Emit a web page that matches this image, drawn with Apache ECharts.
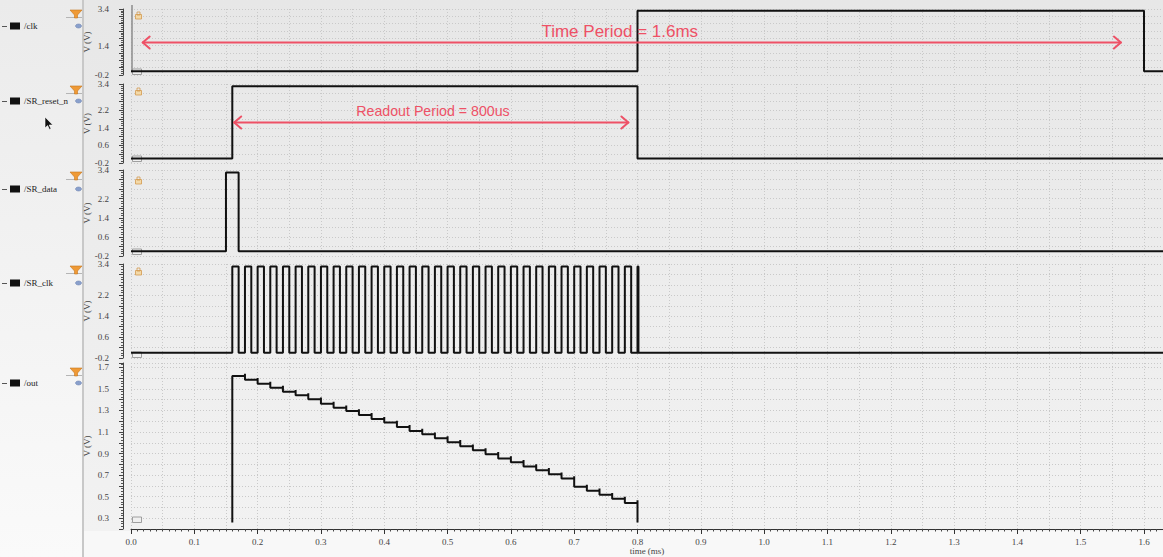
<!DOCTYPE html>
<html>
<head>
<meta charset="utf-8">
<script src="https://cdn.jsdelivr.net/npm/echarts@6/dist/echarts.min.js"></script>
<style>
html,body{margin:0;padding:0;width:1163px;height:557px;overflow:hidden;background:#f8f8f8;}
#left{position:absolute;left:0;top:0;width:82px;height:557px;background:linear-gradient(#ebebeb,#fafafa);}
#sep{position:absolute;left:82px;top:0;width:2px;height:557px;background:#c8c8c8;}
#plotbg{position:absolute;left:84px;top:0;width:1079px;height:531px;background:linear-gradient(#e7e7e7,#f2f2f2);}
#chart{position:absolute;left:0;top:0;width:1163px;height:557px;}
</style>
</head>
<body>
<div id="left"></div><div id="sep"></div><div id="plotbg"></div>
<div id="chart"></div>
<script>
// ---------------- data ----------------
const signalNames = ['/clk', '/SR_reset_n', '/SR_data', '/SR_clk', '/out'];
const tMax = 1.63;

const clkT = [0, 0.8, 0.8, 1.6, 1.6, 1.63];
const clkV = [0, 0, 3.3, 3.3, 0, 0];

const resetT = [0, 0.16, 0.16, 0.8, 0.8, 1.63];
const resetV = [0, 0, 3.3, 3.3, 0, 0];

const dataT = [0, 0.15, 0.15, 0.17, 0.17, 1.63];
const dataV = [0, 0, 3.3, 3.3, 0, 0];

const srClkRise = [0.16, 0.18, 0.20, 0.22, 0.24, 0.26, 0.28, 0.30, 0.32, 0.34, 0.36, 0.38, 0.40, 0.42, 0.44, 0.46,
                   0.48, 0.50, 0.52, 0.54, 0.56, 0.58, 0.60, 0.62, 0.64, 0.66, 0.68, 0.70, 0.72, 0.74, 0.76, 0.78, 0.800];
const srClkFall = [0.17, 0.19, 0.21, 0.23, 0.25, 0.27, 0.29, 0.31, 0.33, 0.35, 0.37, 0.39, 0.41, 0.43, 0.45, 0.47,
                   0.49, 0.51, 0.53, 0.55, 0.57, 0.59, 0.61, 0.63, 0.65, 0.67, 0.69, 0.71, 0.73, 0.75, 0.77, 0.79, 0.8015];
const srClkHigh = 3.3;
const srClkLow = 0;

const outEdges = [0.16, 0.18, 0.20, 0.22, 0.24, 0.26, 0.28, 0.30, 0.32, 0.34, 0.36, 0.38, 0.40, 0.42, 0.44, 0.46,
                  0.48, 0.50, 0.52, 0.54, 0.56, 0.58, 0.60, 0.62, 0.64, 0.66, 0.68, 0.70, 0.72, 0.74, 0.76, 0.78, 0.80];
const outLevels = [1.62, 1.585, 1.548, 1.51, 1.474, 1.44, 1.403, 1.363, 1.326, 1.295, 1.258, 1.221, 1.187, 1.147, 1.11, 1.078,
                   1.042, 1.005, 0.968, 0.931, 0.894, 0.853, 0.82, 0.779, 0.746, 0.707, 0.668, 0.591, 0.554, 0.517, 0.48, 0.442];
const outPeaks = [1.64, 1.60, 1.565, 1.53, 1.49, 1.46, 1.42, 1.38, 1.345, 1.31, 1.275, 1.24, 1.205, 1.165, 1.13, 1.095,
                  1.06, 1.025, 0.985, 0.95, 0.915, 0.875, 0.84, 0.80, 0.765, 0.725, 0.69, 0.61, 0.575, 0.535, 0.50, 0.467];
const outFloor = 0.26;

const xTickValues = [0, 0.1, 0.2, 0.3, 0.4, 0.5, 0.6, 0.7, 0.8, 0.9, 1.0, 1.1, 1.2, 1.3, 1.4, 1.5, 1.6];
const clkYLabels = [-0.2, 1.4, 3.4];
const waveYLabels = [-0.2, 0.6, 1.4, 2.2, 3.4];
const outYLabels = [0.3, 0.5, 0.7, 0.9, 1.1, 1.3, 1.5, 1.7];

const timeAnno = { text: 'Time Period = 1.6ms', from: 0.0185, to: 1.5635, v: 1.57, textT: 0.772, textV: 2.15 };
const readAnno = { text: 'Readout Period = 800us', from: 0.163, to: 0.7856, v: 1.646, textT: 0.477, textV: 2.17 };

// ---------------- build series data ----------------
const zip = (T, V) => T.map((t, i) => [t, V[i]]);
const srClkData = [[0, srClkLow]];
srClkRise.forEach((r, i) => {
  srClkData.push([r, srClkLow], [r, srClkHigh], [srClkFall[i], srClkHigh], [srClkFall[i], srClkLow]);
});
srClkData.push([tMax, srClkLow]);

const outData = [[outEdges[0], outFloor], [outEdges[0], outLevels[0]]];
for (let i = 1; i < outEdges.length; i++) {
  const t = outEdges[i];
  const next = i < outLevels.length ? outLevels[i] : outFloor;
  outData.push([t, outLevels[i - 1]], [t, outPeaks[i - 1]], [t, next]);
}

// ---------------- styling ----------------
const SERIF = '"Liberation Serif", "DejaVu Serif", serif';
const RED = '#ee5166';
const gridDefs = [
  { top: 9, height: 66 },
  { top: 84, height: 79 },
  { top: 170, height: 86 },
  { top: 264, height: 94 },
  { top: 363, height: 166 }
];
const splitStyle = { show: true, lineStyle: { color: '#c9c9c9', width: 1, type: [1, 2] } };

const grids = gridDefs.map(g => ({ left: 131, right: 0, top: g.top, height: g.height, outerBoundsMode: 'none', containLabel: false }));

const xAxes = gridDefs.map((g, i) => ({
  type: 'value', gridIndex: i, position: 'top', min: 0, max: tMax, interval: 0.05,
  axisLine: { show: false, onZero: false }, axisTick: { show: false }, axisLabel: { show: false },
  splitLine: splitStyle
}));
xAxes.push({
  type: 'value', gridIndex: 4, position: 'bottom', min: 0, max: tMax, interval: 0.1,
  axisLine: { show: true, onZero: false, lineStyle: { color: '#333', width: 1 } },
  axisTick: { show: true, length: 5, customValues: xTickValues, lineStyle: { color: '#333' } },
  minorTick: { show: true, splitNumber: 10, length: 2.5, lineStyle: { color: '#444' } },
  axisLabel: { customValues: xTickValues, formatter: v => v.toFixed(1), fontFamily: SERIF, fontSize: 9, color: '#444', margin: 8 },
  splitLine: { show: false },
  name: 'time (ms)', nameLocation: 'middle', nameGap: 17, nameMoveOverlap: false,
  nameTextStyle: { fontFamily: SERIF, fontSize: 9, color: '#444' }
});

function yAxisDef(i, min, max, interval, labels, minorSplit) {
  return {
    type: 'value', gridIndex: i, position: 'left', min: min, max: max, interval: interval, offset: 8,
    axisLine: { show: true, onZero: false, lineStyle: { color: '#444', width: 1 } },
    axisTick: { show: true, length: 4, lineStyle: { color: '#444' } },
    minorTick: { show: true, splitNumber: minorSplit, length: 2, lineStyle: { color: '#555' } },
    axisLabel: { customValues: labels, formatter: v => v.toFixed(1), fontFamily: SERIF, fontSize: 9, lineHeight: 7, color: '#444', margin: 14 },
    splitLine: splitStyle,
    name: 'V (V)', nameLocation: 'middle', nameGap: 32, nameRotate: 90, nameMoveOverlap: false,
    nameTextStyle: { fontFamily: SERIF, fontSize: 9, color: '#444' }
  };
}
const yAxes = [
  yAxisDef(0, -0.2, 3.4, 0.4, clkYLabels, 4),
  yAxisDef(1, -0.2, 3.4, 0.4, waveYLabels, 4),
  yAxisDef(2, -0.2, 3.4, 0.4, waveYLabels, 4),
  yAxisDef(3, -0.2, 3.4, 0.4, waveYLabels, 4),
  yAxisDef(4, 0.2, 1.74, 0.1, outYLabels, 4)
];

function wave(name, idx, data) {
  return {
    name: name, type: 'line', xAxisIndex: idx, yAxisIndex: idx, data: data,
    showSymbol: false, symbol: 'none', animation: false, silent: true, clip: true,
    lineStyle: { color: '#111', width: 2 }
  };
}

const series = [
  wave(signalNames[0], 0, zip(clkT, clkV)),
  wave(signalNames[1], 1, zip(resetT, resetV)),
  wave(signalNames[2], 2, zip(dataT, dataV)),
  wave(signalNames[3], 3, srClkData),
  wave(signalNames[4], 4, outData)
];

const chart = echarts.init(document.getElementById('chart'), null, { renderer: 'svg' });
chart.setOption({
  animation: false,
  backgroundColor: 'transparent',
  grid: grids, xAxis: xAxes, yAxis: yAxes, series: series
});

// ---------------- decorations & annotations ----------------
const g = [];
const rowY = [26, 101, 189, 283, 383];
const funnelY = [10, 86, 172, 266, 368];
signalNames.forEach((n, i) => {
  const y = rowY[i];
  g.push({ type: 'rect', shape: { x: 2, y: y, width: 5, height: 1 }, style: { fill: '#555' } });
  g.push({ type: 'rect', shape: { x: 10, y: y - 3.5, width: 10, height: 7 }, style: { fill: '#111' } });
  g.push({ type: 'text', x: 24, y: y, style: { text: n, fontFamily: SERIF, fontSize: 9, fill: '#222', verticalAlign: 'middle' } });
  const fy = funnelY[i];
  g.push({ type: 'rect', shape: { x: 66, y: fy + 7, width: 16, height: 1 }, style: { fill: '#b5b5b5' } });
  g.push({ type: 'polygon', shape: { points: [[70, fy], [82, fy], [77.5, fy + 5], [77.5, fy + 8], [74.5, fy + 8], [74.5, fy + 5]] },
           style: { fill: '#ef9a36', stroke: '#c4761f', lineWidth: 0.6 } });
  g.push({ type: 'ellipse', shape: { cx: 78.5, cy: y, rx: 3, ry: 2 }, style: { fill: '#8aa0cc', stroke: '#5f77a8', lineWidth: 0.5 } });
});
// mouse pointer from the screenshot
g.push({ type: 'polygon', shape: { points: [[45, 117], [45, 128], [47.6, 125.6], [49.5, 129.5], [51, 128.8], [49.2, 125], [52.8, 125]] },
         style: { fill: '#111', stroke: '#fff', lineWidth: 0.6 } });
// lock icons and small boxes inside panels
[[12, 0], [88, 1], [177, 2], [268, 3]].forEach(([ly]) => {
  g.push({ type: 'rect', shape: { x: 135.5, y: ly + 2.5, width: 6, height: 4.5 }, style: { fill: '#f3d9a8', stroke: '#d39a4e', lineWidth: 0.8 } });
  g.push({ type: 'rect', shape: { x: 137, y: ly, width: 3, height: 3 }, style: { fill: 'none', stroke: '#d39a4e', lineWidth: 0.8 } });
});
[69, 156, 249, 352, 517].forEach(by => {
  g.push({ type: 'rect', shape: { x: 132.5, y: by, width: 9, height: 5.5 }, style: { fill: '#f0f0f0', stroke: '#8a8a8a', lineWidth: 0.8 } });
});
g.push({ type: 'line', shape: { x1: 132, y1: 5, x2: 132, y2: 72 }, style: { stroke: '#8c8c8c', lineWidth: 1.5 } });

function addArrow(anno, gi, fontSize) {
  const p1 = chart.convertToPixel({ xAxisIndex: gi, yAxisIndex: gi }, [anno.from, anno.v]);
  const p2 = chart.convertToPixel({ xAxisIndex: gi, yAxisIndex: gi }, [anno.to, anno.v]);
  const pt = chart.convertToPixel({ xAxisIndex: gi, yAxisIndex: gi }, [anno.textT, anno.textV]);
  const st = { stroke: RED, lineWidth: 2, fill: 'none', lineJoin: 'round', lineCap: 'round' };
  g.push({ type: 'line', z: 50, shape: { x1: p1[0], y1: p1[1], x2: p2[0], y2: p2[1] }, style: st });
  g.push({ type: 'polyline', z: 50, shape: { points: [[p1[0] + 7, p1[1] - 6], [p1[0], p1[1]], [p1[0] + 7, p1[1] + 6]] }, style: st });
  g.push({ type: 'polyline', z: 50, shape: { points: [[p2[0] - 7, p2[1] - 6], [p2[0], p2[1]], [p2[0] - 7, p2[1] + 6]] }, style: st });
  g.push({ type: 'text', z: 51, x: pt[0], y: pt[1], style: { text: anno.text, fill: RED, fontSize: fontSize,
           fontFamily: '"Liberation Sans", Arial, sans-serif', align: 'center', verticalAlign: 'middle' } });
}
addArrow(timeAnno, 0, 17);
addArrow(readAnno, 1, 14.2);

chart.setOption({ graphic: { elements: g } });
</script>
</body>
</html>
